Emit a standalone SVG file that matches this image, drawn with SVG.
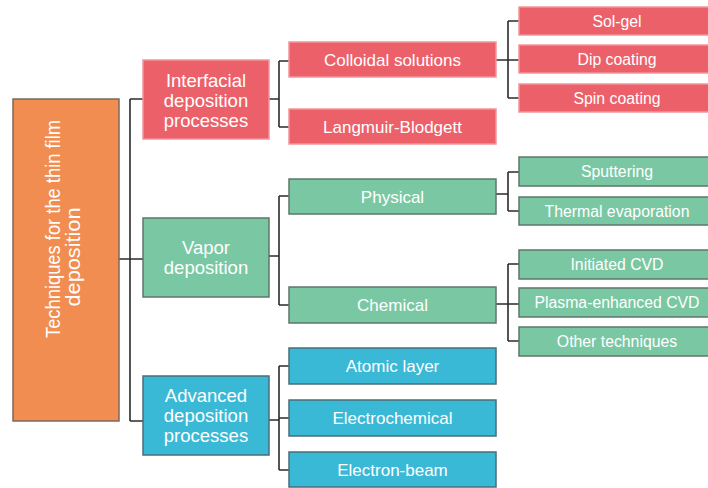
<svg xmlns="http://www.w3.org/2000/svg" width="708" height="488" viewBox="0 0 708 488">
<style>
  text { font-family: "Liberation Sans", Arial, sans-serif; fill: #ffffff; text-anchor: middle; }
  .red { fill: #EC6169; stroke: #F2959B; stroke-width: 1.5; }
  .green { fill: #7AC8A3; stroke: #5F766A; stroke-width: 1.5; }
  .blue { fill: #3AB9D6; stroke: #4A6E78; stroke-width: 1.5; }
  .orange { fill: #F28D52; stroke: #7A6A5E; stroke-width: 1.5; }
  .l1 { font-size: 18.5px; }
  .l2 { font-size: 17px; }
  .l3 { font-size: 15.8px; }
  .conn { fill: none; stroke: #2B2B2B; stroke-width: 1.6; }
</style>
<rect width="708" height="488" fill="#ffffff"/>
<g id="connectors" class="conn">
  <path d="M119 259H143M130 99V421M130 99H143M130 421H143"/>
  <path d="M269 99H279M279 61V127M279 61H289M279 127H289"/>
  <path d="M269 256H279M279 196V305M279 196H289M279 305H289"/>
  <path d="M269 420H279M279 366V470M279 366H289M279 418H289M279 470H289"/>
  <path d="M496 60H519M508 21V98M508 21H519M508 98H519"/>
  <path d="M496 194H508M508 172V211M508 172H519M508 211H519"/>
  <path d="M496 304H519M508 264V341M508 264H519M508 341H519"/>
</g>
<g id="root">
  <rect class="orange" x="13" y="99" width="106" height="322"/>
  <text transform="translate(59.5,229) rotate(-90)" font-size="20" textLength="218" lengthAdjust="spacingAndGlyphs">Techniques for the thin film</text>
  <text transform="translate(80,257) rotate(-90)" font-size="20" textLength="99" lengthAdjust="spacingAndGlyphs">deposition</text>
</g>
<g id="interfacial">
  <rect class="red" x="143" y="60" width="126" height="79"/>
  <text class="l1" x="206" y="86.5">Interfacial</text>
  <text class="l1" x="206" y="106.5">deposition</text>
  <text class="l1" x="206" y="126.5">processes</text>
</g>
<g id="vapor">
  <rect class="green" x="143" y="218" width="126" height="79"/>
  <text class="l1" x="206" y="253.5">Vapor</text>
  <text class="l1" x="206" y="274">deposition</text>
</g>
<g id="advanced">
  <rect class="blue" x="143" y="376" width="126" height="79"/>
  <text class="l1" x="206" y="401.5">Advanced</text>
  <text class="l1" x="206" y="422">deposition</text>
  <text class="l1" x="206" y="442">processes</text>
</g>
<g id="colloidal">
  <rect class="red" x="289" y="42" width="207" height="35"/>
  <text class="l2" x="392.5" y="65.5">Colloidal solutions</text>
</g>
<g id="langmuir">
  <rect class="red" x="289" y="109" width="207" height="35"/>
  <text class="l2" x="392.5" y="132.5">Langmuir-Blodgett</text>
</g>
<g id="physical">
  <rect class="green" x="289" y="179" width="207" height="35"/>
  <text class="l2" x="392.5" y="202.5">Physical</text>
</g>
<g id="chemical">
  <rect class="green" x="289" y="287" width="207" height="36"/>
  <text class="l2" x="392.5" y="311">Chemical</text>
</g>
<g id="atomic">
  <rect class="blue" x="289" y="348" width="207" height="36"/>
  <text class="l2" x="392.5" y="372">Atomic layer</text>
</g>
<g id="electrochemical">
  <rect class="blue" x="289" y="400" width="207" height="36"/>
  <text class="l2" x="392.5" y="424">Electrochemical</text>
</g>
<g id="electronbeam">
  <rect class="blue" x="289" y="452" width="207" height="35"/>
  <text class="l2" x="392.5" y="476">Electron-beam</text>
</g>
<g id="solgel">
  <rect class="red" x="519" y="7" width="198" height="28"/>
  <text class="l3" x="617" y="26.5">Sol-gel</text>
</g>
<g id="dip">
  <rect class="red" x="519" y="45" width="198" height="28"/>
  <text class="l3" x="617" y="64.5">Dip coating</text>
</g>
<g id="spin">
  <rect class="red" x="519" y="84" width="198" height="28"/>
  <text class="l3" x="617" y="103.5">Spin coating</text>
</g>
<g id="sputtering">
  <rect class="green" x="519" y="157" width="198" height="29"/>
  <text class="l3" x="617" y="177">Sputtering</text>
</g>
<g id="thermal">
  <rect class="green" x="519" y="197" width="198" height="28"/>
  <text class="l3" x="617" y="216.5">Thermal evaporation</text>
</g>
<g id="initiated">
  <rect class="green" x="519" y="250" width="198" height="29"/>
  <text class="l3" x="617" y="270">Initiated CVD</text>
</g>
<g id="plasma">
  <rect class="green" x="519" y="288" width="198" height="29"/>
  <text class="l3" x="617" y="308">Plasma-enhanced CVD</text>
</g>
<g id="other">
  <rect class="green" x="519" y="327" width="198" height="29"/>
  <text class="l3" x="617" y="347">Other techniques</text>
</g>
</svg>
